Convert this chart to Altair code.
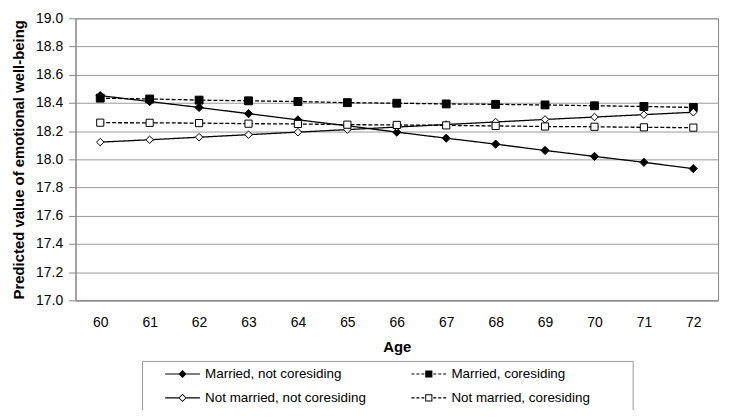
import altair as alt
import pandas as pd

# ---- data ----
ages = [60, 61, 62, 63, 64, 65, 66, 67, 68, 69, 70, 71, 72]
married_not_coresiding = [18.452, 18.41, 18.368, 18.324, 18.28, 18.238, 18.193, 18.15, 18.108, 18.063, 18.021, 17.979, 17.934]
married_coresiding = [18.434, 18.428, 18.42, 18.415, 18.41, 18.402, 18.398, 18.393, 18.39, 18.386, 18.38, 18.375, 18.368]
notmarried_not_coresiding = [18.122, 18.139, 18.157, 18.175, 18.193, 18.211, 18.229, 18.247, 18.265, 18.283, 18.300, 18.317, 18.334]
notmarried_coresiding = [18.26, 18.259, 18.257, 18.253, 18.251, 18.246, 18.244, 18.241, 18.237, 18.233, 18.231, 18.227, 18.225]
series_names = ["Married, not coresiding", "Married, coresiding",
                "Not married, not coresiding", "Not married, coresiding"]
y_ticks = [17.0, 17.2, 17.4, 17.6, 17.8, 18.0, 18.2, 18.4, 18.6, 18.8, 19.0]

rows = []
for name, vals in zip(series_names, [married_not_coresiding, married_coresiding,
                                     notmarried_not_coresiding, notmarried_coresiding]):
    for a, v in zip(ages, vals):
        rows.append({"age": a, "value": v, "series": name})
df = pd.DataFrame(rows)

# ---- styles ----
FONT = "Liberation Sans"
GRID = "#9a9a9a"
AXIS = "#878787"

# legend symbols: line + marker as filled custom paths (pixel units with symbolSize=4)
SPACE_L = "M-33.5,0"
SPACE_R = "M198.5,0"
SOLID_FULL = "M-17.5,-0.6H17.5V0.6H-17.5Z"
SOLID_SPLIT = "M-17.5,-0.6H-3.9V0.6H-17.5ZM3.9,-0.6H17.5V0.6H3.9Z"
DASHES = ("M-17.5,-0.6H-14.5V0.6H-17.5ZM-12.5,-0.6H-9.5V0.6H-12.5Z"
          "M-7.5,-0.6H-4.5V0.6H-7.5ZM4.5,-0.6H7.5V0.6H4.5Z"
          "M9.5,-0.6H12.5V0.6H9.5ZM14.5,-0.6H17.5V0.6H14.5Z")
FILLED_DIAMOND = "M0,-4L4,0L0,4L-4,0Z"
HOLLOW_DIAMOND = "M0,-4.1L4.1,0L0,4.1L-4.1,0ZM0,-2.9L-2.9,0L0,2.9L2.9,0Z"
FILLED_SQUARE = "M-3.6,-3.6H3.6V3.6H-3.6Z"
HOLLOW_SQUARE = "M-3.6,-3.6H3.6V3.6H-3.6ZM-2.6,-2.6V2.6H2.6V-2.6Z"

SYM_MNC = SPACE_L + SOLID_FULL + FILLED_DIAMOND + SPACE_R
SYM_MC = SPACE_L + DASHES + FILLED_SQUARE + SPACE_R
SYM_NNC = SPACE_L + SOLID_SPLIT + HOLLOW_DIAMOND + SPACE_R
SYM_NC = SPACE_L + DASHES + HOLLOW_SQUARE + SPACE_R

x_enc = alt.X(
    "age:O",
    scale=alt.Scale(type="point", padding=0.5),
    axis=alt.Axis(title="Age", labelAngle=0, ticks=False, tickSize=0,
                  labelPadding=15, labelFontSize=14, labelColor="black",
                  titleFontSize=15, titleFontWeight="bold", titleColor="black",
                  titlePadding=10, domainColor=AXIS, grid=False),
)
y_enc = alt.Y(
    "value:Q",
    scale=alt.Scale(domain=[17, 19], nice=False, zero=False),
    axis=alt.Axis(title="Predicted value of emotional well-being", values=y_ticks,
                  format=".1f", tickSize=7, tickColor=AXIS, labelPadding=6,
                  labelFontSize=14, labelColor="black",
                  titleFontSize=15, titleFontWeight="bold", titleColor="black",
                  titlePadding=9, domainColor=AXIS, grid=True, gridColor=GRID),
)

base = alt.Chart(df)

lines = base.mark_line(color="black", strokeWidth=1.3).encode(
    x=x_enc, y=y_enc, detail="series:N",
    strokeDash=alt.StrokeDash("series:N",
                              scale=alt.Scale(domain=series_names,
                                              range=[[1, 0], [4, 2], [1, 0], [4, 2]]),
                              legend=None),
)

points = base.mark_point(filled=True, stroke="black", strokeWidth=1, opacity=1).encode(
    x=x_enc, y=y_enc,
    shape=alt.Shape("series:N",
                    scale=alt.Scale(domain=series_names,
                                    range=["diamond", "square", "diamond", "square"]),
                    legend=None),
    fill=alt.Fill("series:N",
                  scale=alt.Scale(domain=series_names,
                                  range=["black", "black", "white", "white"]),
                  legend=None),
    size=alt.Size("series:N",
                  scale=alt.Scale(domain=series_names, range=[68, 52, 52, 52]),
                  legend=None),
)

legend_layer = base.mark_point(filled=True, color="black", opacity=0).encode(
    x=x_enc, y=y_enc,
    shape=alt.Shape(
        "series:N",
        scale=alt.Scale(domain=series_names,
                        range=[SYM_MNC, SYM_MC, SYM_NNC, SYM_NC]),
        legend=alt.Legend(
            title=None, orient="none", legendX=67, legendY=345,
            direction="horizontal",
            columns=2, columnPadding=14, rowPadding=9.5, padding=6,
            strokeColor="#999999", fillColor="white",
            symbolSize=4, symbolStrokeWidth=0,
            symbolFillColor="black", symbolOpacity=1,
            symbolOffset=28, labelOffset=16, labelLimit=400,
            labelFont=FONT, labelFontSize=13.5, labelColor="black",
        ),
    ),
)

chart = (
    alt.layer(lines, points, legend_layer)
    .resolve_scale(shape="independent", size="independent")
    .properties(
        width=647, height=284,
        padding={"left": 68, "top": 9, "right": 5, "bottom": 109},
        autosize=alt.AutoSizeParams(type="none"),
    )
    .configure_view(stroke=AXIS, strokeWidth=1)
    .configure_axis(labelFont=FONT, titleFont=FONT)
    .configure_legend(labelFont=FONT)
)

chart.save("out.html", embed_options={"renderer": "svg", "actions": False})
